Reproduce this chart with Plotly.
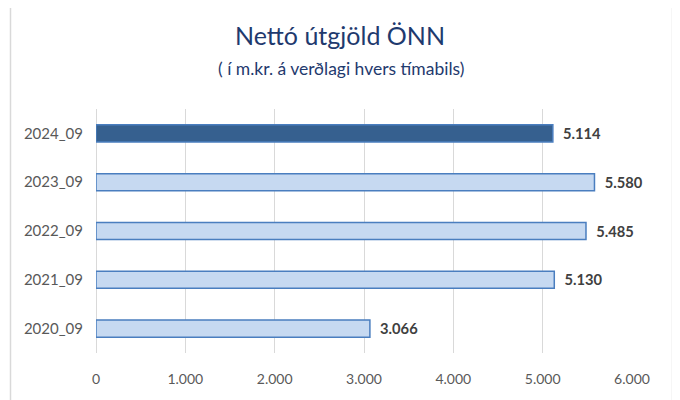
import plotly.graph_objects as go

periods = ["2020_09", "2021_09", "2022_09", "2023_09", "2024_09"]
net_spend = [3066, 5130, 5485, 5580, 5114]
x_ticks = [0, 1000, 2000, 3000, 4000, 5000, 6000]

light = "#c6d9f1"
dark = "#36608f"
colors = [dark if p == "2024_09" else light for p in periods]

fig = go.Figure()

fig.add_trace(go.Bar(
    x=net_spend,
    y=periods,
    orientation="h",
    width=0.35,
    marker=dict(color=colors, line=dict(color="#4a7ebf", width=1.5)),
    texttemplate="\u00a0\u00a0%{x:,.0f}",
    textposition="outside",
    textfont=dict(family="Lato", size=15.5, color="#404040", weight="bold"),
    cliponaxis=False,
    hoverinfo="skip",
))

# titill og undirtitill
fig.add_annotation(
    text="Nettó útgjöld ÖNN", xref="paper", yref="paper",
    x=0.455, y=(353 - 35) / 244, xanchor="center", yanchor="middle",
    showarrow=False, font=dict(family="Lato", size=25, color="#1f3a6e"),
)
fig.add_annotation(
    text="( í m.kr. á verðlagi hvers tímabils)", xref="paper", yref="paper",
    x=0.457, y=(353 - 68) / 244, xanchor="center", yanchor="middle",
    showarrow=False, font=dict(family="Lato", size=17.5, color="#1f3a6e"),
)

# rammi utan um myndina
fig.add_shape(
    type="rect", xref="paper", yref="paper",
    x0=(10.5 - 96) / 536, x1=(672.5 - 96) / 536,
    y0=-0.3, y1=(353 - 3.5) / 244,
    line=dict(color="#d9d9d9", width=1.5), layer="below",
)

# síðan hefur 8px spássíu, því er myndin 672x392
fig.update_layout(
    width=672, height=392,
    margin=dict(l=88, r=48, t=101, b=47),
    paper_bgcolor="white", plot_bgcolor="white",
    separators=",.",
    showlegend=False,
    font=dict(family="Lato", size=14, color="#595959"),
    xaxis=dict(
        range=[0, 6000], tickvals=x_ticks, tickformat=",d",
        showgrid=True, gridcolor="#d9d9d9", gridwidth=1,
        zeroline=True, zerolinecolor="#d9d9d9", zerolinewidth=1,
        showline=False, ticks="", ticklabelstandoff=16,
        fixedrange=True,
    ),
    yaxis=dict(
        showgrid=False, showline=False, ticks="",
        ticklabelstandoff=12, fixedrange=True,
        tickfont=dict(size=15),
    ),
)

fig.write_html("out.html")
